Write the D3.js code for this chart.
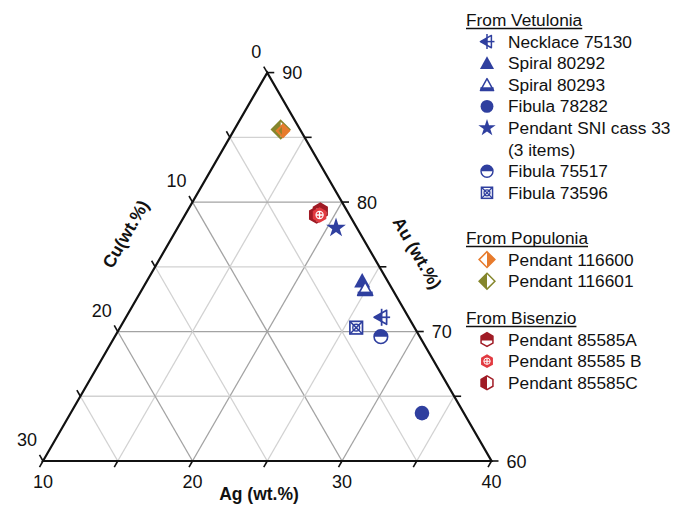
<!DOCTYPE html>
<html>
<head>
<meta charset="utf-8">
<script src="https://cdn.jsdelivr.net/npm/d3@7"></script>
<style>
  body { margin: 0; background: #fff; }
  svg { font-family: "Liberation Sans", Arial, sans-serif; }
  .tick-label { font-size: 18px; fill: #111; }
  .axis-title { font-size: 17.5px; font-weight: bold; fill: #111; }
  .legend-text { font-size: 17.3px; fill: #111; }
</style>
</head>
<body>
<svg id="chart" width="676" height="505"></svg>
<script>
// ---- data (wt.%) ----
var sampleNames = ["Pendant 116601", "Pendant 116600", "Pendant 85585A", "Pendant 85585C", "Pendant 85585 B",
    "Pendant SNI cass 33", "Spiral 80292", "Spiral 80293", "Necklace 75130", "Fibula 73596", "Fibula 75517", "Fibula 78282"];
var agValues = [13.1, 13.3, 18.9, 18.8, 19.0, 20.6, 24.4, 24.9, 27.1, 25.8, 27.8, 33.5];
var auValues = [85.6, 85.5, 79.3, 79.0, 79.0, 78.0, 73.9, 73.3, 71.1, 70.3, 69.6, 63.7];
var cuValues = [1.3, 1.2, 1.8, 2.2, 2.0, 1.4, 1.7, 1.8, 1.8, 3.9, 2.6, 2.8];

var agTicks = [10, 20, 30, 40];
var auTicks = [90, 80, 70, 60];
var cuTicks = [0, 10, 20, 30];

var legendGroups = ["From Vetulonia", "From Populonia", "From Bisenzio"];
var legendItems = [
    { group: 0, name: "Necklace 75130" },
    { group: 0, name: "Spiral 80292" },
    { group: 0, name: "Spiral 80293" },
    { group: 0, name: "Fibula 78282" },
    { group: 0, name: "Pendant SNI cass 33", extra: "(3 items)" },
    { group: 0, name: "Fibula 75517" },
    { group: 0, name: "Fibula 73596" },
    { group: 1, name: "Pendant 116600" },
    { group: 1, name: "Pendant 116601" },
    { group: 2, name: "Pendant 85585A" },
    { group: 2, name: "Pendant 85585 B" },
    { group: 2, name: "Pendant 85585C" }
];

// marker style per sample
var blue = "#2f3f9f", orange = "#e77b2c", olive = "#85862c", red = "#a01b25", lightRed = "#e23a40";
var markerStyle = {
    "Necklace 75130": { type: "leftTriCross", color: blue },
    "Spiral 80292": { type: "triFilled", color: blue },
    "Spiral 80293": { type: "triBar", color: blue },
    "Fibula 78282": { type: "circle", color: blue },
    "Pendant SNI cass 33": { type: "star", color: blue },
    "Fibula 75517": { type: "circleTop", color: blue },
    "Fibula 73596": { type: "squareX", color: blue },
    "Pendant 116600": { type: "diamondRight", color: orange },
    "Pendant 116601": { type: "diamondLeft", color: olive },
    "Pendant 85585A": { type: "hexTop", color: red },
    "Pendant 85585 B": { type: "hexCross", color: lightRed },
    "Pendant 85585C": { type: "hexLeft", color: red }
};

// ---- geometry ----
var svg = d3.select("#chart");
var x0 = 43, x1 = 491.5, yBase = 461;
var side = x1 - x0;
var h = side * Math.sqrt(3) / 2;

var auScale = d3.scaleLinear().domain([60, 90]).range([yBase, yBase - h]);
var agScale = d3.scaleLinear().domain([10, 40]).range([0, side]);
var shiftScale = d3.scaleLinear().domain([60, 90]).range([0, side / 2]);

function project(ag, au) {
    return [x0 + agScale(ag) + shiftScale(au), auScale(au)];
}
function projectCu(ag, cu) { return project(ag, 100 - ag - cu); }

var g = svg.append("g");

// ---- grid ----
var gridVals = d3.range(5, 30, 5); // offsets from each axis minimum
var grid = g.append("g").attr("class", "grid");
gridVals.forEach(function(v) {
    var col = (v % 10 === 0) ? "#a3a3a3" : "#d2d2d2";
    // constant Au (horizontal)
    var au = 60 + v;
    var a = project(10, au), b = project(100 - au, au);
    grid.append("line").attr("x1", a[0]).attr("y1", a[1]).attr("x2", b[0]).attr("y2", b[1]).attr("stroke", col).attr("stroke-width", 1.3);
    // constant Ag
    var ag = 10 + v;
    a = project(ag, 60); b = project(ag, 100 - ag);
    grid.append("line").attr("x1", a[0]).attr("y1", a[1]).attr("x2", b[0]).attr("y2", b[1]).attr("stroke", col).attr("stroke-width", 1.3);
    // constant Cu
    var cu = v;
    a = projectCu(10, cu); b = projectCu(40 - cu, cu);
    grid.append("line").attr("x1", a[0]).attr("y1", a[1]).attr("x2", b[0]).attr("y2", b[1]).attr("stroke", col).attr("stroke-width", 1.3);
});

// ---- triangle frame ----
var pTop = project(10, 90), pBL = project(10, 60), pBR = project(40, 60);
g.append("path")
    .attr("d", "M" + pBL + "L" + pTop + "L" + pBR + "Z")
    .attr("fill", "none").attr("stroke", "#111").attr("stroke-width", 2.2).attr("stroke-linejoin", "miter");

// ---- ticks ----
var tl = 7, c60 = 0.5, s60 = Math.sqrt(3) / 2;
var ticks = g.append("g").attr("stroke", "#111").attr("stroke-width", 1.6);
d3.range(0, 35, 5).forEach(function(v) {
    var p = project(10 + v, 60); // bottom (Ag)
    ticks.append("line").attr("x1", p[0]).attr("y1", p[1]).attr("x2", p[0] - tl * c60).attr("y2", p[1] + tl * s60);
    p = project(40 - v, 60 + v); // right (Au)
    ticks.append("line").attr("x1", p[0]).attr("y1", p[1]).attr("x2", p[0] + tl).attr("y2", p[1]);
    p = projectCu(10, v); // left (Cu)
    ticks.append("line").attr("x1", p[0]).attr("y1", p[1]).attr("x2", p[0] - tl * c60).attr("y2", p[1] - tl * s60);
});

// ---- tick labels ----
agTicks.forEach(function(v) {
    var p = project(v, 60);
    g.append("text").attr("class", "tick-label").attr("x", p[0]).attr("y", p[1] + 27).attr("text-anchor", "middle").text(v);
});
auTicks.forEach(function(v) {
    var p = project(100 - v, v);
    g.append("text").attr("class", "tick-label").attr("x", p[0] + 15).attr("y", p[1] + 6.5).attr("text-anchor", "start").text(v);
});
cuTicks.forEach(function(v) {
    var p = projectCu(10, v);
    var dx = v === 0 ? -11 : -16;
    g.append("text").attr("class", "tick-label").attr("x", p[0] + dx).attr("y", p[1] - 15).attr("text-anchor", "middle").text(v);
});

// ---- axis titles ----
g.append("text").attr("class", "axis-title").attr("x", 259).attr("y", 500).attr("text-anchor", "middle").text("Ag (wt.%)");
g.append("text").attr("class", "axis-title").attr("text-anchor", "middle")
    .attr("transform", "translate(131,237) rotate(-60)").text("Cu(wt.%)");
g.append("text").attr("class", "axis-title").attr("text-anchor", "middle")
    .attr("transform", "translate(412,256) rotate(60)").text("Au (wt.%)");

// ---- markers ----
function hexPts(r) {
    return d3.range(6).map(function(i) {
        var a = Math.PI / 3 * i - Math.PI / 2;
        return [r * Math.cos(a), r * Math.sin(a)];
    });
}
// inPlot: unfilled halves of the diamonds are left see-through so the two
// overlapping Populonia pendants read as one orange diamond with olive rim
function drawMarker(sel, type, color, inPlot) {
    var m = sel.append("g");
    if (type === "circle") {
        m.append("circle").attr("r", 7.3).attr("fill", color);
    } else if (type === "circleTop") {
        m.append("circle").attr("r", 6.8).attr("fill", "#fff").attr("stroke", color).attr("stroke-width", 1.6);
        m.append("path").attr("d", "M-6.8,0A6.8,6.8 0 0 1 6.8,0Z").attr("fill", color);
    } else if (type === "triFilled") {
        m.append("path").attr("d", "M0,-8L8,6.5L-8,6.5Z").attr("fill", color);
    } else if (type === "triBar") {
        m.append("path").attr("d", "M0,-7L7.5,6.5L-7.5,6.5Z").attr("fill", "#fff").attr("stroke", color).attr("stroke-width", 1.7).attr("stroke-linejoin", "round");
        m.append("rect").attr("x", -7.5).attr("y", 2.8).attr("width", 15).attr("height", 3.7).attr("fill", color);
    } else if (type === "star") {
        m.append("path").attr("d", d3.symbol(d3.symbolStar, 120)()).attr("fill", color);
    } else if (type === "leftTriCross") {
        m.append("path").attr("d", "M-7.5,0L5,-7L5,7Z").attr("fill", "#fff").attr("stroke", color).attr("stroke-width", 1.7).attr("stroke-linejoin", "round");
        m.append("path").attr("d", "M-7.5,0L0,-4.2L0,4.2Z").attr("fill", color);
        m.append("line").attr("x1", -7).attr("y1", 0).attr("x2", 8.5).attr("y2", 0).attr("stroke", color).attr("stroke-width", 1.7);
        m.append("line").attr("x1", 0).attr("y1", -8.5).attr("x2", 0).attr("y2", 8.5).attr("stroke", color).attr("stroke-width", 1.7);
    } else if (type === "squareX") {
        m.append("rect").attr("x", -6.3).attr("y", -6.3).attr("width", 12.6).attr("height", 12.6).attr("fill", "#fff").attr("stroke", color).attr("stroke-width", 1.7);
        m.append("path").attr("d", "M-6.3,-6.3L6.3,6.3M6.3,-6.3L-6.3,6.3").attr("stroke", color).attr("stroke-width", 1.5);
        m.append("circle").attr("r", 3.4).attr("fill", "none").attr("stroke", color).attr("stroke-width", 1.4);
    } else if (type === "diamondRight" || type === "diamondLeft") {
        if (inPlot && type === "diamondRight") {
            m.append("path").attr("d", "M0,-7.6L7.6,0L0,7.6L-7.6,0Z").attr("fill", color);
            m.append("path").attr("d", "M-1,-4L-4.5,0L-1,4Z").attr("fill", olive).attr("opacity", 0.8);
        } else {
            m.append("path").attr("d", "M0,-9L9,0L0,9L-9,0Z").attr("fill", inPlot ? "none" : "#fff").attr("stroke", color).attr("stroke-width", 1.7).attr("stroke-linejoin", "miter");
            var half = type === "diamondRight" ? "M0,-9L9,0L0,9Z" : "M0,-9L-9,0L0,9Z";
            m.append("path").attr("d", half).attr("fill", color);
        }
    } else if (type === "hexTop" || type === "hexLeft" || type === "hexCross") {
        var pts = hexPts(7.8);
        var hex = "M" + pts.join("L") + "Z";
        if (type === "hexCross") {
            m.append("path").attr("d", hex).attr("fill", color);
            m.append("path").attr("d", "M-3.6,0L3.6,0M0,-3.6L0,3.6").attr("stroke", "#fff").attr("stroke-width", 1.3);
            m.append("circle").attr("r", 3.6).attr("fill", "none").attr("stroke", "#fff").attr("stroke-width", 1.1);
        } else {
            m.append("path").attr("d", hex).attr("fill", "#fff").attr("stroke", color).attr("stroke-width", 1.7);
            var part = type === "hexTop"
                ? "M" + pts[5] + "L" + pts[0] + "L" + pts[1] + "L" + [pts[1][0], 1] + "L" + [pts[5][0], 1] + "Z"
                : "M" + [pts[0], [0, pts[3][1]], pts[3], pts[4], pts[5]].join("L") + "Z";
            m.append("path").attr("d", part).attr("fill", color);
        }
    }
    return m;
}

var marks = g.append("g").attr("class", "marks");
sampleNames.forEach(function(name, i) {
    var p = project(agValues[i], auValues[i]);
    var st = markerStyle[name];
    drawMarker(marks, st.type, st.color, true).attr("transform", "translate(" + p[0] + "," + p[1] + ")");
});

// ---- legend ----
var legend = svg.append("g").attr("class", "legend");
var headerY = [20, 238, 318];
var rowH = 21.6;
legendGroups.forEach(function(name, gi) {
    var t = legend.append("text").attr("class", "legend-text").attr("x", 466).attr("y", headerY[gi] + 6).text(name);
    var w = t.node().getComputedTextLength();
    legend.append("line").attr("x1", 466).attr("x2", 466 + w).attr("y1", headerY[gi] + 8.5).attr("y2", headerY[gi] + 8.5)
        .attr("stroke", "#111").attr("stroke-width", 1.5);
    var row = 1;
    legendItems.filter(function(d) { return d.group === gi; }).forEach(function(d) {
        var y = headerY[gi] + row * rowH;
        var st = markerStyle[d.name];
        drawMarker(legend, st.type, st.color, false).attr("transform", "translate(487," + y + ") scale(0.88)");
        legend.append("text").attr("class", "legend-text").attr("x", 508).attr("y", y + 6).text(d.name);
        row++;
        if (d.extra) {
            legend.append("text").attr("class", "legend-text").attr("x", 508).attr("y", headerY[gi] + row * rowH + 6).text(d.extra);
            row++;
        }
    });
});
</script>
</body>
</html>
